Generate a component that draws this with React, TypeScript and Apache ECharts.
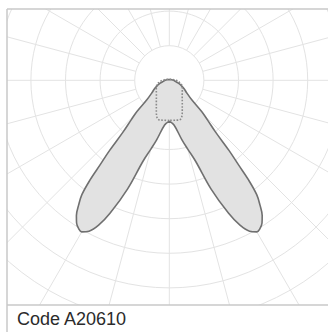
import React, { useEffect, useRef } from "react";
import * as echarts from "echarts";

// Photometric curve, C0-C180 plane (left half, angle from nadir in degrees, intensity in cd/klm)
const c0Angles = [0, 6, 12, 15, 18, 21, 24, 26, 28, 30, 31.5, 33, 34.5, 36, 37.4, 38.5, 39.3, 40.4, 41.8, 44, 46, 49, 55, 60, 66, 70, 75, 80, 90, 105, 130, 180];
const c0Values = [59, 65, 88, 103, 123, 168, 210, 233, 247, 253, 251, 246, 237, 223, 208, 184, 158, 133, 100, 79, 65, 43, 30, 25, 19, 16, 12, 9, 6, 3, 1.5, 1];

// C90-C270 plane (dotted)
const c90Angles = [0, 10, 15, 18, 22, 30, 40, 50, 60, 70, 80, 90, 100, 120, 180];
const c90Values = [58, 58.5, 59, 57, 50, 37.5, 29, 24.5, 21.7, 19, 14.5, 10, 6, 3, 1.5];

const ringStep = 50;
const ringMax = 450;
const angleStep = 15;
const caption = "Code A20610";

function mirror(angles: number[], values: number[]) {
  const pts: number[][] = [];
  for (let i = 0; i < angles.length; i++) pts.push([values[i], angles[i]]);
  for (let i = angles.length - 2; i >= 0; i--) pts.push([values[i], 360 - angles[i]]);
  return pts;
}

const W = 328;
const H = 332;
const CX = 169.3;
const CY = 80.3;
const RING_PX = 34.6;
const OUTER = RING_PX * (ringMax / ringStep);
const FRAME_L = 7;
const FRAME_T = 9;
const FRAME_B = 305;
const GRID = "#e3e3e3";
const FRAME = "#c9c9c9";

export default function App() {
  const ref = useRef<HTMLDivElement>(null);
  useEffect(() => {
    if (!ref.current) return;
    const chart = echarts.init(ref.current, undefined, { renderer: "svg" });
    const hidden = {
      axisLine: { show: false },
      axisTick: { show: false },
      axisLabel: { show: false },
    };
    chart.setOption({
      animation: false,
      backgroundColor: "#ffffff",
      polar: [
        { center: [CX, CY], radius: [RING_PX, OUTER] },
        { center: [CX, CY], radius: [0, OUTER] },
      ],
      angleAxis: [
        {
          polarIndex: 0,
          type: "value",
          min: 0,
          max: 360,
          interval: angleStep,
          startAngle: 270,
          clockwise: true,
          ...hidden,
          splitLine: { show: true, lineStyle: { color: GRID, width: 1 } },
        },
        {
          polarIndex: 1,
          type: "value",
          min: 0,
          max: 360,
          startAngle: 270,
          clockwise: true,
          ...hidden,
          splitLine: { show: false },
        },
      ],
      radiusAxis: [
        {
          polarIndex: 0,
          type: "value",
          min: ringStep,
          max: ringMax,
          interval: ringStep,
          ...hidden,
          splitLine: { show: true, lineStyle: { color: GRID, width: 1 } },
        },
        {
          polarIndex: 1,
          type: "value",
          min: 0,
          max: ringMax,
          ...hidden,
          splitLine: { show: false },
        },
      ],
      series: [
        {
          type: "line",
          coordinateSystem: "polar",
          polarIndex: 1,
          data: mirror(c0Angles, c0Values),
          smooth: 0.35,
          symbol: "none",
          silent: true,
          z: 3,
          lineStyle: { color: "#707070", width: 1.6 },
          areaStyle: { color: "#e2e2e2", opacity: 1 },
        },
        {
          type: "line",
          coordinateSystem: "polar",
          polarIndex: 1,
          data: mirror(c90Angles, c90Values),
          smooth: 0.35,
          symbol: "none",
          silent: true,
          z: 4,
          lineStyle: { color: "#8a8a8a", width: 1.6, type: "dotted" },
        },
      ],
      graphic: [
        { type: "rect", z: 100, silent: true, shape: { x: 0, y: 0, width: W, height: FRAME_T }, style: { fill: "#ffffff" } },
        { type: "rect", z: 100, silent: true, shape: { x: 0, y: 0, width: FRAME_L, height: H }, style: { fill: "#ffffff" } },
        { type: "rect", z: 100, silent: true, shape: { x: 0, y: FRAME_B, width: W, height: H - FRAME_B }, style: { fill: "#ffffff" } },
        { type: "line", z: 101, silent: true, shape: { x1: FRAME_L, y1: FRAME_T, x2: W, y2: FRAME_T }, style: { stroke: FRAME, lineWidth: 1.5 } },
        { type: "line", z: 101, silent: true, shape: { x1: FRAME_L, y1: FRAME_T, x2: FRAME_L, y2: H }, style: { stroke: FRAME, lineWidth: 1.5 } },
        { type: "line", z: 101, silent: true, shape: { x1: FRAME_L, y1: FRAME_B, x2: W, y2: FRAME_B }, style: { stroke: FRAME, lineWidth: 1.5 } },
        {
          type: "text",
          z: 102,
          silent: true,
          style: {
            text: caption,
            x: 17,
            y: 310,
            fill: "#2b2b2b",
            font: '18px "Liberation Sans", Arial, sans-serif',
            textVerticalAlign: "top",
          },
        },
      ],
    });
    return () => chart.dispose();
  }, []);
  return <div ref={ref} style={{ position: "absolute", left: 0, top: 0, width: W, height: H }} />;
}
